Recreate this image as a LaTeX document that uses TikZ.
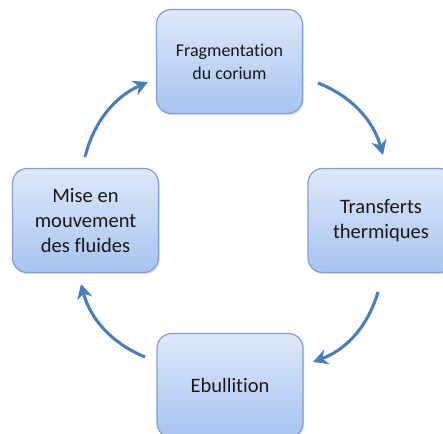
\documentclass[tikz,border=0pt]{standalone}
\usepackage{fontspec}
\setmainfont{Carlito}[Ligatures=NoCommon]
\usetikzlibrary{arrows.meta,shadows}

\definecolor{boxtop}{RGB}{222,232,250}
\definecolor{boxbottom}{RGB}{168,196,240}
\definecolor{boxline}{RGB}{126,160,208}
\definecolor{cyclecol}{RGB}{72,126,188}

\tikzset{every picture/.style={line width=0.75pt}}
\tikzset{
  stage/.style={draw=boxline, line width=0.9pt, rounded corners=11pt,
    top color=boxtop, bottom color=boxbottom,
    minimum width=109.5pt, minimum height=78pt, align=center,
    text=black!90, font=\fontsize{15.4}{19}\selectfont,
    drop shadow={opacity=0.22, shadow xshift=1pt, shadow yshift=-1.5pt}},
  smalltext/.style={font=\fontsize{13.5}{17.25}\selectfont},
  cyclearrow/.style={draw=cyclecol, line width=2.3pt,
    -{Stealth[length=11pt,width=11.5pt,inset=3.5pt]}}
}

\begin{document}
\begin{tikzpicture}[x=0.75pt,y=0.75pt,yscale=-1,xscale=1]
	\useasboundingbox (0,0) rectangle (443,434);
	\clip (0,0) rectangle (443,434);

	% Stage Nodes
	\node [stage, smalltext] (frag) at (229.5,61.5) {Fragmentation\\du corium};
	\node [stage] (transf) at (381,220.5) {Transferts\\thermiques};
	\node [stage] (ebul) at (230,385.5) {Ebullition};
	\node [stage] (fluid) at (85.5,220.5) {Mise en\\mouvement\\des fluides};

	% Arrow Ends
	\coordinate (fragout) at (318,83);
	\coordinate (transfin) at (383,155);
	\coordinate (transfout) at (378,292);
	\coordinate (ebulin) at (313,362);
	\coordinate (ebulout) at (145,357);
	\coordinate (fluidin) at (81,284);
	\coordinate (fluidout) at (85,157);
	\coordinate (fragin) at (148,82);

	%Curve Lines
	\draw [cyclearrow] (fragout) .. controls (351.6,96.3) and (373.2,120.3) .. (transfin);
	%Curve Lines
	\draw [cyclearrow] (transfout) .. controls (368,326.2) and (346.4,349.6) .. (ebulin);
	%Curve Lines
	\draw [cyclearrow] (ebulout) .. controls (111.7,343.3) and (90.3,318.9) .. (fluidin);
	%Curve Lines
	\draw [cyclearrow] (fluidout) .. controls (93.8,121.7) and (114.8,96.7) .. (fragin);

\end{tikzpicture}
\end{document}
